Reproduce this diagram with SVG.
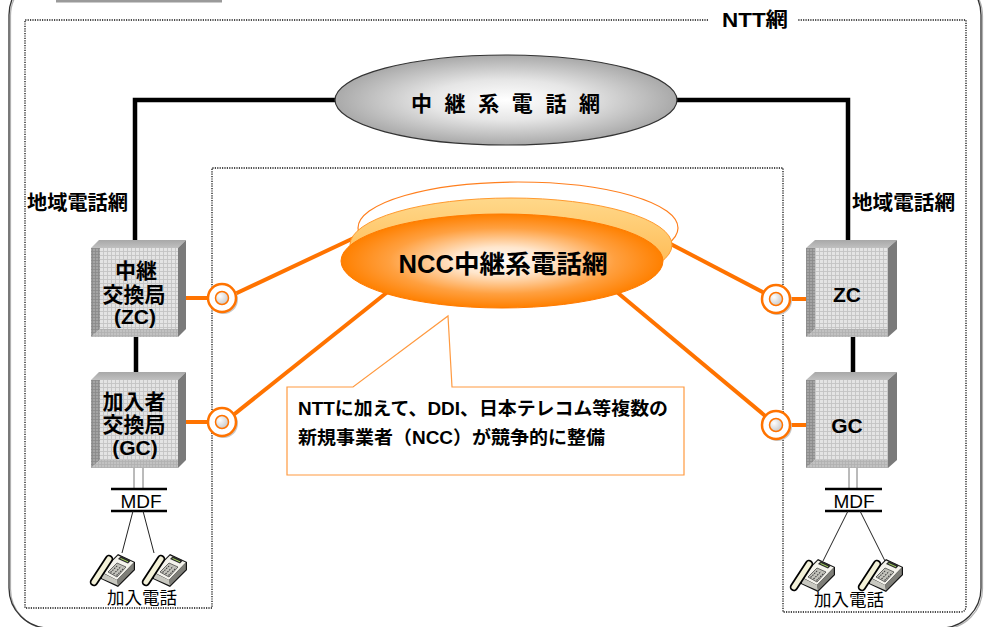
<svg xmlns="http://www.w3.org/2000/svg" width="986" height="627" viewBox="0 0 986 627">
  <defs>
    <style>
      .t { font-family: "Liberation Sans", "Noto Sans CJK JP", sans-serif; fill: #000; }
      .b { font-weight: 700; }
      .blk { stroke: #000; stroke-width: 4.5; fill: none; }
      .org { stroke: #ff7300; stroke-width: 4; fill: none; }
      .cord { stroke: #222; stroke-width: 1; fill: none; }
      .bar { stroke: #000; stroke-width: 2.5; }
      .dbl { stroke: #777; stroke-width: 1; }
      .top { fill: url(#topFace); }
      .side { fill: #7a7a7a; }
      .face { fill: url(#grid); }
      .bevL { fill: url(#gridDark); }
      .bevB { fill: url(#gridMid); }
      .dots { fill: none; stroke: #111; stroke-width: 1.3; stroke-dasharray: 1.2 1.2; }
    </style>
    <pattern id="grid" patternUnits="userSpaceOnUse" width="4" height="4">
      <rect width="4" height="4" fill="#e4e4e4"/>
      <path d="M3.5 0V4M0 3.5H4" stroke="#c4c4c4" stroke-width="0.9"/>
    </pattern>
    <pattern id="gridDark" patternUnits="userSpaceOnUse" width="3" height="3">
      <rect width="3" height="3" fill="#a4a4a4"/>
      <path d="M2.5 0V3M0 2.5H3" stroke="#8a8a8a" stroke-width="0.8"/>
    </pattern>
    <pattern id="gridMid" patternUnits="userSpaceOnUse" width="3" height="3">
      <rect width="3" height="3" fill="#c2c2c2"/>
      <path d="M2.5 0V3M0 2.5H3" stroke="#b0b0b0" stroke-width="0.8"/>
    </pattern>
    <linearGradient id="topFace" x1="0" y1="0" x2="0" y2="1">
      <stop offset="0" stop-color="#a8a8a8"/>
      <stop offset="1" stop-color="#c0c0c0"/>
    </linearGradient>
    <radialGradient id="grayOval" cx="0.5" cy="0.5" r="0.5">
      <stop offset="0" stop-color="#ffffff"/>
      <stop offset="0.45" stop-color="#e6e6e6"/>
      <stop offset="1" stop-color="#a9a9a9"/>
    </radialGradient>
    <radialGradient id="nccOval" cx="0.5" cy="0.5" r="0.5">
      <stop offset="0" stop-color="#ffffff"/>
      <stop offset="0.3" stop-color="#ffe6cc"/>
      <stop offset="0.7" stop-color="#ffa040"/>
      <stop offset="1" stop-color="#ff8000"/>
    </radialGradient>
    <linearGradient id="nccBack" x1="0" y1="0" x2="0" y2="1">
      <stop offset="0" stop-color="#ffd88a"/>
      <stop offset="1" stop-color="#ffb040"/>
    </linearGradient>
    <radialGradient id="jackIn" cx="0.35" cy="0.35" r="0.7">
      <stop offset="0" stop-color="#ffffff"/>
      <stop offset="1" stop-color="#c8c8c8"/>
    </radialGradient>
    <g id="jack">
      <circle cx="1.5" cy="1.5" r="14.5" fill="#c8c8c8"/>
      <circle r="14" fill="#fff" stroke="#ff7300" stroke-width="2.5"/>
      <circle r="6.5" fill="url(#jackIn)" stroke="#ff7300" stroke-width="1.5"/>
    </g>
    <g id="phone">
      <polygon points="10,22 28,4 45,12 45,20 28,37 11,29" fill="#111"/>
      <polygon points="11.5,22 28,5.6 43.8,12.6 27,30" fill="#f4f3ec"/>
      <polygon points="27,30 43.8,12.6 43.8,19.5 28,35.5" fill="#7e7e78"/>
      <polygon points="11.5,22.5 27,30 28,35.5 12,28.5" fill="#c8c8c0"/>
      <polygon points="18,22 27,13 36,17 27,27" fill="#c4c4bc" stroke="#333" stroke-width="0.7"/>
      <path d="M20.5,22.5 L28,15 M23.5,24 L31,16.5 M26.5,25.5 L34,18" stroke="#444" stroke-width="1.1" stroke-dasharray="1.6 1"/>
      <polygon points="28,9 31,6 41,10.5 38,13.5" fill="#2a2a2a"/>
      <line x1="30.5" y1="8.4" x2="38" y2="11.8" stroke="#a6d85e" stroke-width="1"/>
      <path d="M4,32 L19,9" stroke="#000" stroke-width="8.5" stroke-linecap="round"/>
      <path d="M4,32 L19,9" stroke="#f3f1d8" stroke-width="5" stroke-linecap="round"/>
    </g>
  </defs>

  <rect width="986" height="627" fill="#fff"/>

  <!-- outer frame -->
  <g id="frame">
    <rect x="10.5" y="-24" width="972" height="653" rx="40" fill="none" stroke="#b0b0b0" stroke-width="1.2"/>
    <rect x="9" y="-25" width="972" height="653" rx="40" fill="none" stroke="#333" stroke-width="1.3"/>
    <rect x="56" y="0" width="166" height="2.5" fill="#9a9a9a"/>
  </g>

  <!-- NTT network boundary (dotted) -->
  <g id="ntt-area">
    <path class="dots" d="M708,20 H25 V608 H212 V168 H783 V612 H960 Q966,612 966,606 V20 H798"/>
    <text class="t b" x="722" y="27" font-size="20" textLength="66" lengthAdjust="spacingAndGlyphs">NTT網</text>
    <text class="t b" x="27" y="210" font-size="20" textLength="101" lengthAdjust="spacingAndGlyphs">地域電話網</text>
    <text class="t b" x="852" y="210" font-size="20" textLength="103" lengthAdjust="spacingAndGlyphs">地域電話網</text>
  </g>

  <!-- connectors -->
  <g id="connectors">
    <polyline class="blk" points="340,100 135,100 135,241"/>
    <polyline class="blk" points="672,100 848,100 848,241"/>
    <line class="blk" x1="136" y1="336" x2="136" y2="373"/>
    <line class="blk" x1="853" y1="336" x2="853" y2="373"/>

    <line class="org" x1="178" y1="298" x2="215" y2="298"/>
    <line class="org" x1="222" y1="300" x2="356" y2="237"/>
    <line class="org" x1="180" y1="422" x2="215" y2="422"/>
    <line class="org" x1="222" y1="424" x2="395" y2="286"/>
    <line class="org" x1="783" y1="299" x2="807" y2="299"/>
    <line class="org" x1="776" y1="299" x2="663" y2="240"/>
    <line class="org" x1="783" y1="425" x2="807" y2="425"/>
    <line class="org" x1="776" y1="425" x2="612" y2="288"/>

    <!-- MDF wiring, left -->
    <line class="dbl" x1="134" y1="468" x2="134" y2="489"/>
    <line class="dbl" x1="143" y1="468" x2="143" y2="489"/>
    <line class="bar" x1="111" y1="489" x2="167" y2="489"/>
    <line class="bar" x1="111" y1="511" x2="167" y2="511"/>
    <line class="cord" x1="133" y1="511" x2="122" y2="553"/>
    <line class="cord" x1="143" y1="511" x2="154" y2="553"/>

    <!-- MDF wiring, right -->
    <line class="dbl" x1="849" y1="468" x2="849" y2="489"/>
    <line class="dbl" x1="857" y1="468" x2="857" y2="489"/>
    <line class="bar" x1="825" y1="489" x2="882" y2="489"/>
    <line class="bar" x1="825" y1="511" x2="882" y2="511"/>
    <line class="cord" x1="848" y1="511" x2="823" y2="561"/>
    <line class="cord" x1="860" y1="511" x2="885" y2="561"/>
  </g>

  <!-- NTT trunk network -->
  <g id="ntt-trunk">
    <ellipse cx="506" cy="100" rx="171" ry="45" fill="url(#grayOval)" stroke="#333" stroke-width="1.2"/>
    <text class="t b" x="505.5" y="111" font-size="21" text-anchor="middle" textLength="189" lengthAdjust="spacing">中 継 系 電 話 網</text>
  </g>

  <!-- NCC trunk network -->
  <g id="ncc-trunk">
    <ellipse cx="518" cy="228" rx="160" ry="46" fill="#fff" stroke="#ff7f1e" stroke-width="1.2"/>
    <ellipse cx="511" cy="245" rx="161" ry="47" fill="url(#nccBack)" stroke="#ff9a2e" stroke-width="1"/>
    <ellipse cx="502" cy="261" rx="161" ry="47" fill="url(#nccOval)" stroke="#ff7a00" stroke-width="1"/>
    <text class="t b" x="503" y="273" font-size="25" text-anchor="middle" textLength="209" lengthAdjust="spacingAndGlyphs">NCC中継系電話網</text>
  </g>

  <!-- left trunk exchange -->
  <g id="zc-left">
    <polygon class="top" points="91,248 99,240 186,240 178,248"/>
    <polygon class="side" points="178,248 186,240 186,329 178,337"/>
    <rect class="face" x="91" y="248" width="87" height="89"/>
    <polygon class="bevL" points="91,248 100,248 100,329 91,337"/>
    <polygon class="bevB" points="91,337 100,329 178,329 178,337"/>
    <text class="t b" x="136" y="278" font-size="21" text-anchor="middle">中継</text>
    <text class="t b" x="134" y="302" font-size="21" text-anchor="middle">交換局</text>
    <text class="t b" x="135" y="324" font-size="21" text-anchor="middle">(ZC)</text>
  </g>

  <!-- left subscriber exchange -->
  <g id="gc-left">
    <polygon class="top" points="91,380 99,372 186,372 178,380"/>
    <polygon class="side" points="178,380 186,372 186,460 178,468"/>
    <rect class="face" x="91" y="380" width="87" height="88"/>
    <polygon class="bevL" points="91,380 100,380 100,460 91,468"/>
    <polygon class="bevB" points="91,468 100,460 178,460 178,468"/>
    <text class="t b" x="134" y="409" font-size="21" text-anchor="middle">加入者</text>
    <text class="t b" x="134" y="432" font-size="21" text-anchor="middle">交換局</text>
    <text class="t b" x="135" y="455" font-size="21" text-anchor="middle">(GC)</text>
  </g>

  <!-- right trunk exchange -->
  <g id="zc-right">
    <polygon class="top" points="806,248 815,240 897,240 888,248"/>
    <polygon class="side" points="888,248 897,240 897,329 888,337"/>
    <rect class="face" x="806" y="248" width="82" height="89"/>
    <polygon class="bevL" points="806,248 815,248 815,329 806,337"/>
    <polygon class="bevB" points="806,337 815,329 888,329 888,337"/>
    <text class="t b" x="847" y="302" font-size="21" text-anchor="middle">ZC</text>
  </g>

  <!-- right subscriber exchange -->
  <g id="gc-right">
    <polygon class="top" points="806,380 815,372 897,372 888,380"/>
    <polygon class="side" points="888,380 897,372 897,460 888,468"/>
    <rect class="face" x="806" y="380" width="82" height="88"/>
    <polygon class="bevL" points="806,380 815,380 815,460 806,468"/>
    <polygon class="bevB" points="806,468 815,460 888,460 888,468"/>
    <text class="t b" x="847" y="433" font-size="21" text-anchor="middle">GC</text>
  </g>

  <!-- interconnection points -->
  <g id="poi-zc-left"><use href="#jack" x="222" y="298"/></g>
  <g id="poi-gc-left"><use href="#jack" x="222" y="422"/></g>
  <g id="poi-zc-right"><use href="#jack" x="776" y="299"/></g>
  <g id="poi-gc-right"><use href="#jack" x="776" y="425"/></g>

  <!-- callout -->
  <g id="note">
    <path d="M287,387 H353 L448,316 L452,387 H684 V475 H287 Z" fill="#fff" stroke="#ff9a40" stroke-width="1.2"/>
    <text class="t b" x="298" y="415" font-size="18.5" textLength="370" lengthAdjust="spacingAndGlyphs">NTTに加えて、DDI、日本テレコム等複数の</text>
    <text class="t b" x="298" y="444" font-size="18.5" textLength="307" lengthAdjust="spacingAndGlyphs">新規事業者（NCC）が競争的に整備</text>
  </g>

  <!-- subscriber side, left -->
  <g id="mdf-left">
    <text class="t" x="141" y="508" font-size="19" text-anchor="middle">MDF</text>
  </g>
  <g id="phones-left">
    <use href="#phone" x="90" y="550"/>
    <use href="#phone" x="142" y="550"/>
    <text class="t" x="142" y="604" font-size="17.5" text-anchor="middle">加入電話</text>
  </g>

  <!-- subscriber side, right -->
  <g id="mdf-right">
    <text class="t" x="854" y="508" font-size="19" text-anchor="middle">MDF</text>
  </g>
  <g id="phones-right">
    <use href="#phone" x="790" y="555"/>
    <use href="#phone" x="858" y="555"/>
    <text class="t" x="849" y="606" font-size="17.5" text-anchor="middle">加入電話</text>
  </g>
</svg>
